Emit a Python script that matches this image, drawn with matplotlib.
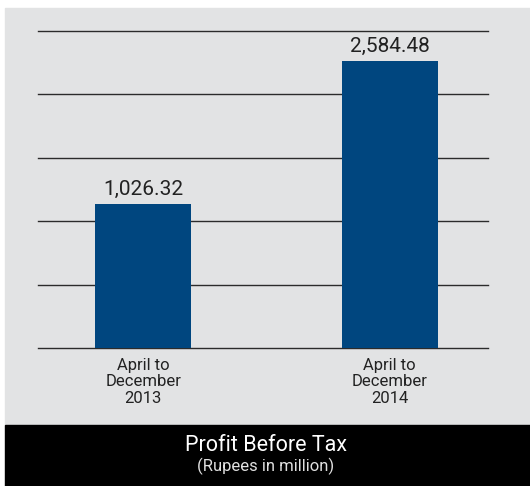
import numpy as np
import matplotlib.pyplot as plt
from matplotlib.patches import Rectangle

plt.rcParams["font.family"] = ["Roboto", "DejaVu Sans"]

categories = ["April to\nDecember\n2013", "April to\nDecember\n2014"]
values = [1026.32, 2584.48]
value_labels = ["1,026.32", "2,584.48"]
title = "Profit Before Tax"
subtitle = "(Rupees in million)"

# the source chart is not drawn from zero: its baseline sits well below 0
y_base = -543
grid_step = 691

fig = plt.figure(figsize=(5.30, 4.86), dpi=100)
fig.patch.set_facecolor("white")

W, H = 530, 486
fig.patches.append(Rectangle((5 / W, 61 / H), 525 / W, 417 / H,
                             transform=fig.transFigure, color="#e2e3e4", zorder=-1))
fig.patches.append(Rectangle((5 / W, 0), 525 / W, 61 / H,
                             transform=fig.transFigure, color="black", zorder=-1))

ax = fig.add_axes([38 / W, 138 / H, 450 / W, 317 / H])
ax.set_facecolor("none")

x = np.arange(len(values))
heights = np.array(values) - y_base
ax.bar(x, heights, bottom=y_base, width=0.39, color="#00467f", zorder=3)

for k in range(6):
    ax.axhline(y_base + k * grid_step, color="#2b2b2b", lw=1.0, zorder=1, clip_on=False)

ax.set_xlim(-0.428, 1.399)
ax.set_ylim(y_base, y_base + 5 * grid_step)

for xi, v, lab in zip(x, values, value_labels):
    ax.annotate(lab, (xi, v), xytext=(0, 4), textcoords="offset points",
                ha="center", va="bottom", fontsize=15, color="#222222")

for xi, cat in zip(x, categories):
    ax.annotate(cat, (xi, y_base), xytext=(0, -7), textcoords="offset points",
                ha="center", va="top", fontsize=12, color="#222222",
                linespacing=1.12, annotation_clip=False)

for s in ax.spines.values():
    s.set_visible(False)
ax.set_xticks([])
ax.set_yticks([])

fig.text(266 / W, (486 - 445.5) / H, title, ha="center", va="center",
         fontsize=15.5, color="white")
fig.text(266 / W, (486 - 466.5) / H, subtitle, ha="center", va="center",
         fontsize=12, color="#e0e0e0")

fig.savefig("out.png", dpi=100)
